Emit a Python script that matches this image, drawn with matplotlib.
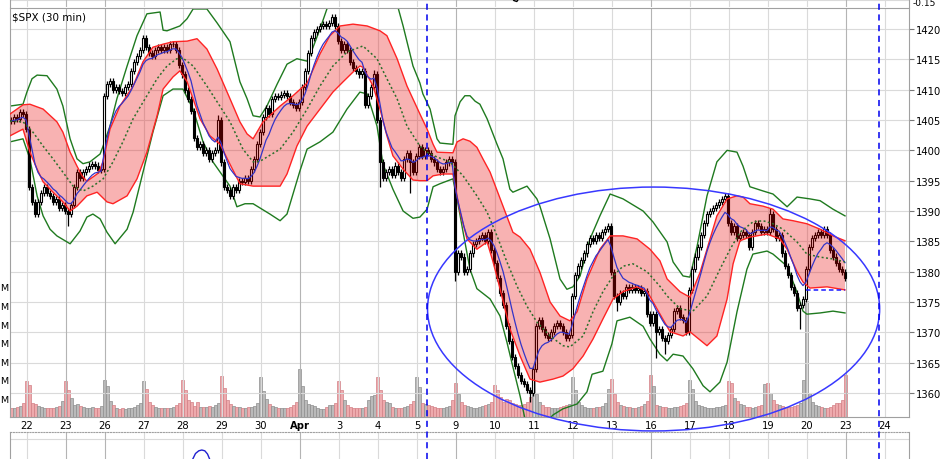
import numpy as np
import pandas as pd
import matplotlib
matplotlib.use("Agg")
import matplotlib.pyplot as plt
from matplotlib.patches import Ellipse
from matplotlib.lines import Line2D

# ── data ─────────────────────────────────────────────────────────────────────
# 30-min bars; bar 0 = first bar of Mar 22, bars -5..-1 are the tail of Mar 21
first_open = 1405.0
closes = [
    1404.8, 1405.5, 1405.2, 1406.3, 1406.0,                      # Mar 21
    1403.5, 1394.0, 1391.5, 1389.5, 1391.5, 1393.0, 1394.0,       # Mar 22
    1393.0, 1392.5, 1391.5, 1392.0, 1390.5, 1391.0,
    1390.0, 1389.5, 1391.0, 1394.0, 1396.5, 1395.5, 1396.5,       # Mar 23
    1397.0, 1397.5, 1397.8, 1397.5, 1396.8, 1397.0,
    1409.0, 1411.0, 1411.5, 1410.0, 1410.5, 1409.8, 1409.5,       # Mar 26
    1410.5, 1411.0, 1413.0, 1414.5, 1415.5, 1416.5,
    1418.5, 1417.0, 1416.0, 1415.5, 1416.5, 1417.0, 1416.5,       # Mar 27
    1417.0, 1416.5, 1417.5, 1417.5, 1416.5, 1414.0,
    1412.5, 1410.0, 1408.5, 1406.5, 1402.0, 1400.5, 1401.0,       # Mar 28
    1399.5, 1400.0, 1398.5, 1399.5, 1400.0, 1405.0,
    1398.0, 1394.0, 1393.5, 1392.5, 1394.0, 1393.5, 1395.0,       # Mar 29
    1394.8, 1395.5, 1395.0, 1397.0, 1398.5, 1401.0,
    1403.0, 1405.5, 1407.0, 1406.0, 1408.5, 1409.0, 1408.8,       # Mar 30
    1409.2, 1409.5, 1409.0, 1408.0, 1407.5, 1407.0,
    1408.0, 1410.5, 1413.0, 1416.0, 1418.5, 1419.5, 1420.0,       # Apr 2
    1420.5, 1420.8, 1420.5, 1421.0, 1422.0, 1420.5,
    1418.0, 1416.5, 1417.5, 1416.5, 1414.5, 1413.5, 1413.0,       # Apr 3
    1412.5, 1413.0, 1407.5, 1409.0, 1410.5, 1412.5,
    1405.0, 1398.0, 1395.5, 1396.5, 1397.0, 1396.0, 1397.5,       # Apr 4
    1396.5, 1395.5, 1398.5, 1399.5, 1398.0, 1396.5,
    1399.0, 1400.5, 1399.0, 1400.0, 1399.5, 1398.5, 1398.0,       # Apr 5
    1397.0, 1396.5, 1397.0, 1398.0, 1398.5, 1398.0,
    1380.0, 1383.0, 1382.5, 1380.0, 1380.5, 1383.0, 1384.5,       # Apr 9
    1385.0, 1385.5, 1386.0, 1385.0, 1386.5, 1383.5,
    1381.5, 1379.0, 1376.5, 1374.5, 1371.0, 1368.5, 1366.0,       # Apr 10
    1364.5, 1363.0, 1362.0, 1361.5, 1360.5, 1360.0,
    1364.0, 1371.0, 1372.0, 1370.5, 1369.5, 1369.0, 1370.0,       # Apr 11
    1371.0, 1371.5, 1371.0, 1370.0, 1369.0, 1369.5,
    1376.0, 1379.5, 1381.0, 1382.0, 1383.0, 1384.5, 1385.5,       # Apr 12
    1385.0, 1386.0, 1385.5, 1386.5, 1387.0, 1387.5,
    1380.0, 1376.0, 1375.0, 1376.5, 1376.0, 1377.5, 1377.0,       # Apr 13
    1377.5, 1377.0, 1377.3, 1376.5, 1376.8, 1373.0,
    1371.5, 1373.0, 1370.0, 1370.5, 1369.0, 1368.5, 1369.5,       # Apr 16
    1370.5, 1373.5, 1374.0, 1372.5, 1372.0, 1370.0,
    1377.0, 1380.5, 1382.5, 1384.0, 1386.0, 1388.0, 1389.5,       # Apr 17
    1390.0, 1390.5, 1391.0, 1391.5, 1392.0, 1392.5,
    1388.0, 1386.5, 1387.5, 1385.5, 1386.0, 1386.5, 1386.0,       # Apr 18
    1384.0, 1386.5, 1388.0, 1387.5, 1386.5, 1387.0,
    1386.5, 1389.5, 1387.0, 1385.5, 1386.0, 1383.0, 1381.0,       # Apr 19
    1379.5, 1377.5, 1376.5, 1374.0, 1374.5, 1375.5,
    1380.5, 1384.0, 1385.5, 1386.0, 1386.5, 1386.0, 1387.0,       # Apr 20
    1386.0, 1383.5, 1382.5, 1381.5, 1380.5, 1380.0,
    1379.0,                                                       # Apr 23
]
# volume in millions, same bars
volumes = [
    10, 10, 11, 12, 15,
    39, 34, 15, 14, 12, 11, 10, 10, 10, 10, 11, 12, 17,
    39, 29, 20, 13, 14, 12, 11, 10, 10, 11, 10, 10, 12,
    40, 33, 17, 13, 10, 9, 10, 9, 10, 10, 11, 13, 15,
    39, 30, 16, 13, 11, 10, 10, 10, 10, 10, 11, 13, 15,
    40, 29, 18, 16, 12, 16, 11, 11, 11, 12, 11, 13, 15,
    44, 31, 18, 14, 12, 11, 11, 10, 10, 11, 11, 12, 15,
    43, 28, 19, 14, 12, 11, 10, 10, 10, 10, 11, 13, 16,
    52, 33, 18, 14, 13, 12, 10, 9, 9, 11, 13, 13, 15,
    39, 29, 18, 13, 11, 10, 10, 10, 10, 11, 18, 23, 24,
    43, 29, 18, 16, 15, 11, 10, 10, 10, 11, 12, 14, 17,
    43, 32, 15, 14, 13, 12, 11, 10, 10, 10, 11, 12, 18,
    37, 25, 16, 13, 12, 11, 10, 10, 11, 12, 13, 14, 16,
    34, 29, 21, 16, 19, 18, 15, 14, 13, 13, 14, 16, 21,
    40, 25, 16, 13, 11, 11, 10, 10, 10, 11, 12, 13, 14,
    43, 29, 16, 13, 11, 10, 10, 10, 11, 11, 12, 15, 30,
    41, 25, 16, 13, 12, 11, 11, 10, 10, 11, 12, 14, 17,
    45, 33, 13, 12, 11, 11, 10, 10, 11, 11, 12, 13, 15,
    40, 30, 17, 13, 12, 11, 10, 10, 10, 11, 11, 12, 13,
    39, 37, 20, 17, 14, 13, 11, 11, 10, 11, 12, 13, 35,
    37, 26, 18, 14, 13, 12, 11, 11, 11, 12, 13, 15, 40,
    125, 26, 16, 13, 12, 11, 10, 10, 11, 13, 15, 15, 18,
    45,
]
# bars with long shadows
low_wick_t = [14, 118, 128, 143, 168, 197, 210, 213, 258]
low_wick_p = [1387.5, 1394.0, 1393.0, 1378.5, 1358.5, 1373.5, 1365.8, 1366.5, 1370.6]
high_wick_t = [64, 116, 233, 248]
high_wick_p = [1405.8, 1413.2, 1393.0, 1390.5]

# outer (green) envelope
gu_t = [-5.3, -1, 0.3, 2, 3.7, 7, 10.3, 12.3, 14.7, 17, 19, 21.3, 24.7, 25.7, 28, 30.3,
        33.7, 37, 40.3, 44.7, 45.7, 47, 51.3, 53.7, 55.7, 60.3, 63.7, 68, 71.3, 73.7,
        75.7, 78, 80.3, 83.7, 87, 90.3, 93.7, 95.7, 98, 100.3, 102.3, 111.3, 123.7, 125.7,
        129, 131.3, 132.3, 134.7, 137, 138, 142.3, 143, 144.7, 146.3, 148, 149.7, 151.3,
        153.7, 157, 159, 161.3, 162.3, 167, 170.3, 171.3, 174.7, 178, 180.3, 182.3, 184.7,
        188, 191.3, 194.7, 199, 205.7, 209, 213.7, 215.7, 219, 221.3, 223.7, 227, 230.3,
        233.7, 237, 239, 241.3, 245.7, 249, 253.7, 257, 261.3, 264.7, 269, 273]
gu_p = [1407.3, 1407.6, 1409.6, 1411.8, 1412.4, 1412.3, 1410.1, 1407.3, 1401.9, 1398.6,
        1397.8, 1398.1, 1399.4, 1400.7, 1404.0, 1408.5, 1413.9, 1418.9, 1422.5, 1422.8,
        1419.8, 1419.7, 1420.5, 1421.7, 1423.3, 1423.3, 1421.0, 1417.9, 1411.3, 1408.5,
        1405.7, 1405.5, 1407.3, 1410.9, 1414.2, 1415.1, 1414.7, 1417.0, 1420.0, 1423.3,
        1424.6, 1425.0, 1424.1, 1420.5, 1413.9, 1411.1, 1409.3, 1406.8, 1401.9, 1401.2,
        1401.0, 1405.7, 1408.0, 1409.0, 1409.0, 1408.1, 1407.6, 1405.2, 1401.0, 1398.6,
        1393.6, 1393.1, 1394.1, 1392.0, 1390.8, 1385.4, 1378.8, 1377.1, 1377.5, 1379.3,
        1385.4, 1389.2, 1392.8, 1392.0, 1390.0, 1388.2, 1384.9, 1381.6, 1379.3, 1379.1,
        1384.2, 1392.5, 1398.1, 1400.0, 1399.7, 1397.4, 1394.0, 1393.3, 1392.8, 1390.7,
        1392.3, 1392.0, 1391.7, 1390.3, 1389.2]
gl_t = [-5.3, -1, 1.3, 3.7, 5.7, 8, 10.3, 14.7, 18, 20.3, 22.3, 24.7, 27, 29.7, 33.7, 35.7,
        39, 42.3, 45.7, 49, 52.3, 55.7, 59, 62.3, 68, 70.3, 73, 75.7, 81.3, 84.7, 87, 89,
        91.3, 93.7, 98, 102.3, 107, 111.3, 113.7, 117, 119, 122.3, 125.7, 129, 131.3, 133.7,
        135.7, 138, 142.3, 143.7, 145.7, 148, 150.3, 154.7, 158, 160.3, 162.3, 164.7, 166.7,
        171.3, 175.7, 179, 183.7, 187, 188.7, 192.3, 195.3, 197, 201.3, 205.7, 208, 211.3,
        213.7, 215.7, 219, 222.3, 225.7, 228, 231.3, 233.7, 237, 240.3, 242.3, 247, 249,
        253.7, 257, 259, 260.3, 264.7, 269, 273]
gl_p = [1401.4, 1401.9, 1398.6, 1392.5, 1389.2, 1387.0, 1385.9, 1384.6, 1386.7, 1389.0,
        1389.5, 1388.7, 1386.5, 1384.6, 1387.0, 1389.8, 1396.4, 1403.0, 1409.0, 1410.1,
        1410.1, 1406.8, 1401.4, 1398.1, 1394.1, 1390.7, 1391.2, 1391.2, 1389.5, 1388.4,
        1389.5, 1392.8, 1396.6, 1400.2, 1401.4, 1403.0, 1406.8, 1409.6, 1409.3, 1404.0,
        1397.7, 1393.6, 1390.0, 1388.8, 1389.0, 1390.3, 1394.0, 1394.5, 1395.3, 1392.0,
        1386.5, 1380.4, 1377.2, 1375.5, 1372.7, 1368.4, 1364.3, 1359.5, 1354.9, 1354.1,
        1356.4, 1357.4, 1358.2, 1360.2, 1363.1, 1363.6, 1368.1, 1371.9, 1372.5, 1371.0,
        1368.9, 1366.4, 1365.3, 1366.4, 1366.1, 1364.0, 1361.2, 1360.2, 1361.8, 1365.1,
        1373.4, 1380.4, 1382.9, 1383.4, 1382.9, 1380.9, 1376.6, 1373.5, 1373.0, 1373.2,
        1373.5, 1373.2]
# dotted mid line of the green envelope
dm_t = [-5.3, -1, 2.3, 5.7, 9, 12.3, 15.7, 19, 22.3, 25.7, 29, 32.3, 35.7, 40.3, 43.7, 47,
        50.3, 52.3, 55.7, 60.3, 63.7, 68, 72.3, 75.7, 78, 84.7, 89, 93.7, 98, 102.3, 107,
        112.3, 117, 120.3, 123.7, 127, 131.3, 133.7, 137, 141.3, 145.7, 150.3, 153.7, 157,
        160.3, 163.7, 167, 170.3, 174.7, 179, 181.3, 185.7, 189, 192.3, 195.7, 199, 202.3,
        207, 211.3, 213.7, 218, 222.3, 227, 231.3, 234.7, 238, 242.3, 245.7, 249, 252.3,
        257, 260.3, 264.7, 269, 273]
dm_p = [1404.8, 1404.7, 1403.0, 1400.7, 1398.6, 1396.4, 1394.1, 1393.3, 1394.1, 1395.3,
        1398.1, 1401.4, 1405.2, 1409.0, 1411.8, 1413.9, 1415.1, 1415.2, 1413.9, 1410.6,
        1408.0, 1404.7, 1400.2, 1398.1, 1398.2, 1400.2, 1403.0, 1406.8, 1410.6, 1413.9,
        1416.2, 1417.2, 1415.1, 1411.8, 1408.5, 1404.0, 1400.7, 1399.7, 1398.9, 1398.1,
        1395.8, 1392.5, 1389.8, 1385.9, 1381.6, 1377.6, 1374.3, 1371.7, 1369.4, 1367.8,
        1367.6, 1369.4, 1373.4, 1376.7, 1379.3, 1380.9, 1381.3, 1380.0, 1377.6, 1376.0,
        1373.9, 1373.5, 1376.0, 1380.4, 1383.7, 1386.5, 1388.2, 1388.4, 1387.9, 1387.0,
        1384.9, 1382.9, 1382.4, 1382.1, 1381.6]
# inner (red) band
ru_t = [-5.3, -1, 1.3, 5.7, 10.3, 12.3, 14.7, 17, 18.7, 20.3, 23.7, 24.7, 25.7, 28, 31.3,
        35.7, 39, 42.3, 45.7, 49, 53.7, 57, 60.3, 63.7, 68, 71.3, 73.7, 75.7, 79, 84.7, 89,
        93.7, 98, 101.3, 104.7, 109, 113.7, 118, 120.3, 123.7, 127, 131.3, 133.7, 135.7,
        137, 142.3, 143.7, 145.7, 148, 150.3, 152.3, 154.7, 159, 162.3, 164.7, 168, 171.3,
        174.7, 178, 181.3, 183.7, 187, 191.3, 194.7, 199, 203.7, 208, 211.3, 213.7, 218,
        221.3, 224.7, 227, 230.3, 233.7, 237, 239, 241.3, 245.7, 249, 252.3, 255.7, 260.3,
        264.7, 269, 273]
ru_p = [1406.0, 1407.5, 1407.6, 1406.8, 1404.7, 1403.0, 1399.7, 1397.4, 1395.8, 1394.9,
        1396.1, 1396.9, 1398.2, 1403.5, 1407.3, 1410.6, 1414.6, 1417.0, 1417.5, 1417.9,
        1418.0, 1418.4, 1416.7, 1413.4, 1408.5, 1404.7, 1402.7, 1401.9, 1404.7, 1407.3,
        1409.0, 1411.1, 1415.9, 1418.9, 1420.5, 1420.8, 1420.5, 1419.7, 1418.9, 1415.1,
        1410.6, 1406.0, 1403.5, 1401.0, 1399.7, 1399.6, 1401.4, 1401.9, 1401.5, 1400.5,
        1398.6, 1396.4, 1390.8, 1386.5, 1385.7, 1383.7, 1379.9, 1375.0, 1372.7, 1371.9,
        1373.4, 1378.8, 1383.7, 1385.9, 1385.9, 1385.4, 1383.7, 1381.8, 1378.8, 1376.7,
        1375.8, 1379.9, 1383.7, 1389.2, 1392.0, 1392.5, 1392.3, 1391.2, 1390.8, 1390.3,
        1388.7, 1388.4, 1387.9, 1387.0, 1385.9, 1385.1]
rl_t = [-5.3, -1, 1.3, 3.7, 5.7, 9, 12.3, 14.7, 17, 20.3, 23.7, 27, 29, 33.7, 37, 40.3,
        43.7, 45.7, 49, 51.3, 53.7, 58, 61.3, 64.7, 68, 71.3, 75.7, 84.7, 87, 90.3, 93.7,
        98, 102.3, 105.7, 109, 111.3, 112.3, 115.7, 118, 120.3, 122.3, 125.7, 129, 131.3,
        133.7, 135.7, 139, 142.3, 144.7, 147, 150.3, 153.7, 155.7, 158, 161.3, 164.7, 168,
        171.3, 175.7, 179, 182.3, 185.7, 189, 192.3, 195.7, 199, 203.7, 207, 210.3, 214.7,
        219, 221.3, 227, 230.3, 233.7, 235.7, 238, 241.3, 247, 251.3, 253.7, 257, 259,
        261.3, 267, 273]
rl_p = [1402.4, 1403.5, 1399.7, 1396.9, 1394.8, 1393.1, 1391.5, 1390.0, 1390.8, 1392.5,
        1393.1, 1391.5, 1391.2, 1392.5, 1395.3, 1399.7, 1405.7, 1410.1, 1412.1, 1413.1,
        1411.3, 1405.2, 1402.4, 1401.0, 1397.7, 1394.5, 1394.1, 1394.1, 1396.1, 1400.7,
        1404.0, 1406.8, 1409.6, 1411.3, 1412.9, 1413.9, 1413.7, 1410.6, 1406.8, 1402.4,
        1399.1, 1396.9, 1395.1, 1395.0, 1395.0, 1395.8, 1396.1, 1396.1, 1389.8, 1385.4,
        1383.7, 1384.9, 1381.6, 1377.2, 1370.6, 1366.1, 1362.3, 1361.8, 1362.3, 1362.8,
        1364.0, 1366.1, 1368.9, 1372.2, 1375.5, 1376.7, 1377.5, 1376.8, 1373.9, 1370.1,
        1369.4, 1370.1, 1367.8, 1369.4, 1375.5, 1381.3, 1385.1, 1385.7, 1386.2, 1385.4,
        1383.7, 1380.0, 1378.3, 1377.3, 1377.5, 1377.0]

support_t = [260, 273]
support_p = [1377.0, 1377.0]

day_labels = ["22", "23", "26", "27", "28", "29", "30", "Apr", "3", "4", "5", "9", "10",
              "11", "12", "13", "16", "17", "18", "19", "20", "23", "24"]
week_starts = ["26", "Apr", "9", "16", "23"]
price_ticks = list(range(1360, 1421, 5))
vol_ticks = [20, 40, 60, 80, 100, 120, 140]

# bits of the neighbouring panels that peek in
top_curve_t = [161.8, 162.6, 163.6, 164.4]
top_curve_y = [-3, 1.5, 2.5, -1]
bot_curve_t = [55.6, 56.5, 57.6, 58.6, 59.6, 60.5, 61.2]
bot_curve_y = [27, 21.5, 18.8, 18, 18.8, 22, 27]

# ── layout (pixels of the 951x460 picture) ───────────────────────────────────
W, H = 951, 460
L, R, T, B = 10, 909, 9, 418
XMIN, XMAX = (L - 26) / 3, (R - 26) / 3
YMIN, YMAX = 1356.05, 1423.46
VOL_TOP = 440
WICK = 0.5
FS = 7.2
GRID = "#dadada"
GRID_DARK = "#b4b4b4"

fig = plt.figure(figsize=(W / 100, H / 100), dpi=100)
rect = [L / W, 1 - B / H, (R - L) / W, (B - T) / H]
ax_v = fig.add_axes(rect)
ax = fig.add_axes(rect)
ax.patch.set_visible(False)

t = np.arange(-5, -5 + len(closes))
c = np.array(closes)
o = np.r_[first_open, c[:-1]]
up = c >= o
hi = np.maximum(o, c) + WICK
lo = np.minimum(o, c) - WICK
for tt, p in zip(low_wick_t, low_wick_p):
    lo[tt + 5] = min(lo[tt + 5], p)
for tt, p in zip(high_wick_t, high_wick_p):
    hi[tt + 5] = max(hi[tt + 5], p)

# volume underneath (only the "M" of the left-hand labels shows in the picture)
ax_v.bar(t, volumes, width=1.0,
         color=np.where(up, "#bababa", "#eeaaad"),
         edgecolor=np.where(up, "#8e8e8e", "#d27f85"), linewidth=0.5)
ax_v.set_xlim(XMIN, XMAX)
ax_v.set_ylim(0, VOL_TOP)
ax_v.set_xticks([])
ax_v.set_yticks(vol_ticks, ["M"] * len(vol_ticks))
ax_v.tick_params(axis="y", length=0, pad=1.2, labelsize=6.8)
for s in ax_v.spines.values():
    s.set_visible(False)

# grid
day_pos = [13 * d + 1 / 3 for d in range(len(day_labels))]
for p in price_ticks:
    ax.axhline(p, color=GRID, lw=0.8, zorder=0.5)
for x, lab in zip(day_pos, day_labels):
    ax.axvline(x, color=GRID_DARK if lab in week_starts else GRID, lw=0.8, zorder=0.5)

# outer envelope
ax.plot(gu_t, gu_p, color="#1f7a1f", lw=1.0, zorder=2.5)
ax.plot(gl_t, gl_p, color="#1f7a1f", lw=1.0, zorder=2.5)

# candles
ax.vlines(t, lo, hi, color="black", lw=0.9, zorder=3)
ax.bar(t, c - o, bottom=o, width=0.78, color=np.where(up, "white", "black"),
       edgecolor="black", linewidth=0.8, zorder=3.5)

# red band on top of the candles
ax.fill(ru_t + rl_t[::-1], ru_p + rl_p[::-1], color="#e80000", alpha=0.3, lw=0, zorder=4)
ax.plot(ru_t, ru_p, color="#ff2424", lw=1.0, zorder=4.5)
ax.plot(rl_t, rl_p, color="#ff2424", lw=1.0, zorder=4.5)

# fast average and dotted mid line
blue = pd.Series(c).ewm(span=8, adjust=False).mean()
ax.plot(t, blue, color="#3434c8", lw=0.9, zorder=5)
ax.plot(dm_t, dm_p, color="#2a6e2a", lw=1.1, ls=(0, (1.3, 1.6)), zorder=5)

ax.plot(support_t, support_p, color="#1a1aff", lw=1.1, ls=(0, (3, 2)), zorder=5)

ax.add_patch(Ellipse((209.2, 1373.85), 150.7, 40.2, fill=False, ec="#3838ff",
                     lw=1.1, clip_on=False, zorder=8))

ax.set_xlim(XMIN, XMAX)
ax.set_ylim(YMIN, YMAX)
ax.yaxis.tick_right()
ax.set_yticks(price_ticks, [str(p) for p in price_ticks])
ax.set_xticks(day_pos, day_labels)
ax.tick_params(axis="x", length=0, pad=2.5, labelsize=FS)
ax.tick_params(axis="y", length=3.5, pad=1.5, labelsize=FS, color="#777777")
for lbl in ax.get_xticklabels():
    if lbl.get_text() == "Apr":
        lbl.set_fontweight("bold")
for s in ax.spines.values():
    s.set_color("#a0a0a0")
    s.set_linewidth(0.8)

fig.text(12 / W, 1 - 17 / H, r"\$SPX (30 min)", fontsize=7.5, va="center", ha="left")

# strip of the panel above
ax_t = fig.add_axes([L / W, 1 - 8 / H, (R - L) / W, 30 / H])
ax_t.set_xlim(XMIN, XMAX)
ax_t.set_ylim(8, -22)
ax_t.axhline(1, color=GRID, lw=0.8)
for x, lab in zip(day_pos, day_labels):
    ax_t.axvline(x, color=GRID_DARK if lab in week_starts else GRID, lw=0.8)
ax_t.plot(top_curve_t, top_curve_y, color="black", lw=1.0)
ax_t.set_xticks([])
ax_t.set_yticks([])
for k, s in ax_t.spines.items():
    s.set_visible(k in ("left", "right"))
    s.set_color("#a0a0a0")
fig.text(913 / W, 1 - 4 / H, "-0.15", fontsize=6.5, va="center", ha="left")

# strip of the panel below
ax_b = fig.add_axes([L / W, 0, (R - L) / W, 27 / H])
ax_b.set_xlim(XMIN, XMAX)
ax_b.set_ylim(27, 0)
ax_b.axhline(7, color=GRID, lw=0.8)
for x, lab in zip(day_pos, day_labels):
    ax_b.axvline(x, color=GRID_DARK if lab in week_starts else GRID, lw=0.8)
ax_b.plot(bot_curve_t, bot_curve_y, color="#2020d0", lw=1.0)
ax_b.set_xticks([])
ax_b.set_yticks([])
ax_b.spines["bottom"].set_visible(False)
ax_b.spines["top"].set_linestyle((0, (1, 1.5)))
for s in ax_b.spines.values():
    s.set_color("#a0a0a0")
    s.set_linewidth(0.8)

# dashed time markers through all panels
for xp in (427, 879):
    fig.add_artist(Line2D([xp / W, xp / W], [0, 1], transform=fig.transFigure,
                          color="#0000ee", lw=1.1, ls=(0, (4, 3)), zorder=10))

fig.savefig("out.png", dpi=100)
